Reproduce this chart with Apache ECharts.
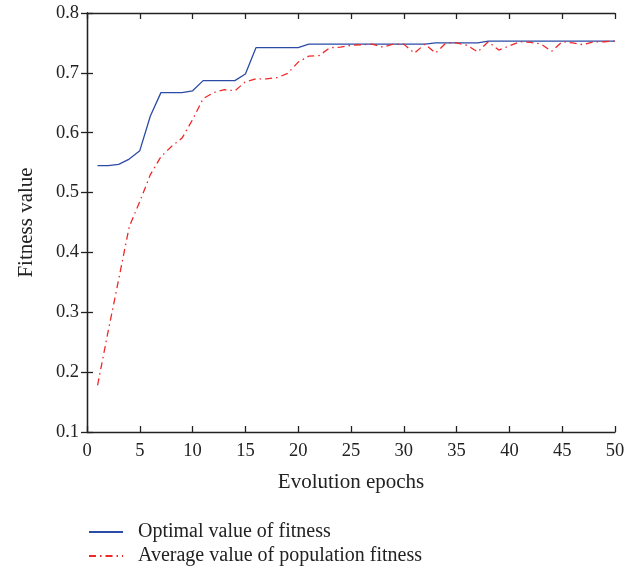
<!DOCTYPE html>
<html>
<head>
<meta charset="utf-8">
<script src="https://cdn.jsdelivr.net/npm/echarts@6/dist/echarts.min.js"></script>
<style>
html,body{margin:0;padding:0;background:#fff;}
#chart{width:642px;height:569px;}
</style>
</head>
<body>
<div id="chart"></div>
<script>
const epochs = [1,2,3,4,5,6,7,8,9,10,11,12,13,14,15,16,17,18,19,20,21,22,23,24,25,26,27,28,29,30,31,32,33,34,35,36,37,38,39,40,41,42,43,44,45,46,47,48,49,50];
const optimalFitness = [0.545,0.545,0.547,0.556,0.570,0.628,0.667,0.667,0.667,0.670,0.687,0.687,0.687,0.687,0.698,0.742,0.742,0.742,0.742,0.742,0.748,0.748,0.748,0.748,0.748,0.748,0.748,0.748,0.748,0.748,0.748,0.748,0.750,0.750,0.750,0.750,0.750,0.753,0.753,0.753,0.753,0.753,0.753,0.753,0.753,0.753,0.753,0.753,0.753,0.753];
const averageFitness = [0.178,0.268,0.355,0.443,0.485,0.530,0.560,0.577,0.591,0.622,0.657,0.667,0.672,0.670,0.685,0.690,0.690,0.692,0.699,0.718,0.728,0.729,0.742,0.743,0.746,0.747,0.748,0.743,0.748,0.748,0.733,0.748,0.733,0.750,0.750,0.746,0.735,0.752,0.738,0.745,0.752,0.751,0.748,0.736,0.752,0.750,0.747,0.752,0.752,0.753];
const seriesNames = ['Optimal value of fitness','Average value of population fitness'];
const xTitle = 'Evolution epochs';
const yTitle = 'Fitness value';

const font = 'Liberation Serif';
const chart = echarts.init(document.getElementById('chart'));
const axisLine = {show:true, lineStyle:{color:'#222', width:1.3}};
const tick = {show:true, inside:true, length:6, lineStyle:{color:'#222', width:1.3}};
const legendBase = {
  orient:'horizontal', left:88, padding:0, itemWidth:34, itemHeight:14,
  itemStyle:{opacity:0},
  textStyle:{fontFamily:font, fontSize:20, color:'#222', padding:[0,0,0,10]}
};
chart.setOption({
  animation:false,
  backgroundColor:'#fff',
  textStyle:{fontFamily:font},
  grid:{left:87, right:27, top:13, bottom:137, containLabel:false},
  legend:[
    Object.assign({}, legendBase, {top:522, data:[seriesNames[0]]}),
    Object.assign({}, legendBase, {top:546, data:[seriesNames[1]]})
  ],
  xAxis:[{
    type:'value', min:0, max:50, interval:5,
    name:xTitle, nameLocation:'middle', nameGap:40,
    nameTextStyle:{fontFamily:font, fontSize:21, color:'#222'},
    axisLine:axisLine, axisTick:tick, splitLine:{show:false},
    axisLabel:{fontFamily:font, fontSize:18.5, color:'#222', margin:10}
  },{
    type:'value', min:0, max:50, interval:5, position:'top',
    axisLine:axisLine, axisTick:tick, splitLine:{show:false}, axisLabel:{show:false}
  }],
  yAxis:[{
    type:'value', min:0.1, max:0.8, interval:0.1,
    name:yTitle, nameLocation:'middle', nameGap:50, nameRotate:90,
    nameTextStyle:{fontFamily:font, fontSize:21, color:'#222'},
    axisLine:axisLine, axisTick:tick, splitLine:{show:false},
    axisLabel:{fontFamily:font, fontSize:18.5, color:'#222', margin:8, formatter:v=>v.toFixed(1)}
  },{
    type:'value', min:0.1, max:0.8, interval:0.1, position:'right',
    axisLine:axisLine, axisTick:tick, splitLine:{show:false}, axisLabel:{show:false}
  }],
  series:[{
    name:seriesNames[0], type:'line', symbol:'none',
    data:epochs.map((e,i)=>[e, optimalFitness[i]]),
    lineStyle:{color:'#2b4ba6', width:1.3}, itemStyle:{color:'#2b4ba6'}
  },{
    name:seriesNames[1], type:'line', symbol:'none',
    data:epochs.map((e,i)=>[e, averageFitness[i]]),
    lineStyle:{color:'#f02828', width:1.3, type:[7,4,1.5,4]}, itemStyle:{color:'#f02828'}
  }]
});
</script>
</body>
</html>
